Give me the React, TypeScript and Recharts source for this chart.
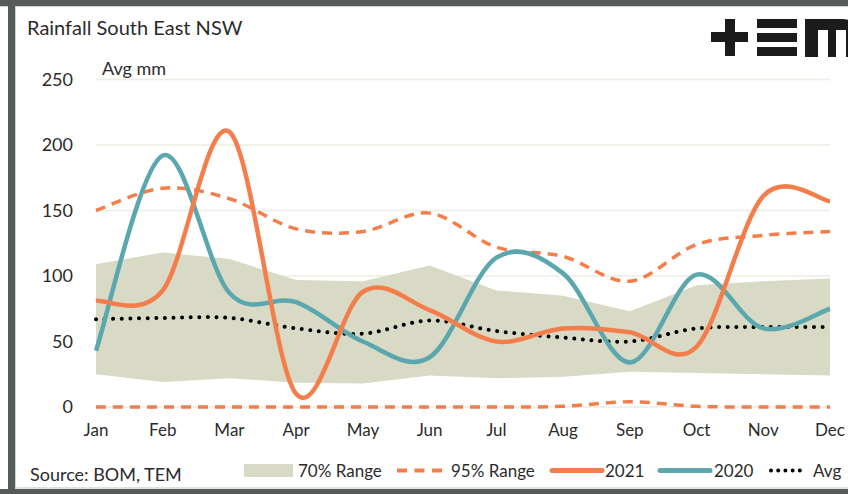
import React from "react";
import { ComposedChart, Line, Area, XAxis, YAxis, CartesianGrid } from "recharts";

const months = ["Jan", "Feb", "Mar", "Apr", "May", "Jun", "Jul", "Aug", "Sep", "Oct", "Nov", "Dec"];
const rain2021 = [81, 89, 210, 10, 88, 74, 50, 60, 57, 46, 161, 157];
const rain2020 = [43, 192, 87, 80, 50, 38, 114, 102, 34, 101, 60, 75];
const avg = [67, 68, 68, 60, 56, 66, 58, 53, 50, 60, 61, 61];
const p95hi = [150, 167, 159, 136, 134, 148, 122, 115, 96, 124, 131, 134];
const p95lo = [0, 0, 0, 0, 0, 0, 0, 0.5, 4, 0.5, 0, 0];
const p70hi = [109, 118, 113, 97, 96, 108, 89, 85, 73, 93, 96, 98];
const p70lo = [25, 19, 22, 18.5, 18, 24, 22, 23, 27, 26, 25, 24];
const yTicks = [0, 50, 100, 150, 200, 250];

const data = months.map((m, i) => ({
  month: m,
  r2021: rain2021[i],
  r2020: rain2020[i],
  avg: avg[i],
  hi95: p95hi[i],
  lo95: p95lo[i],
  band: [p70lo[i], p70hi[i]],
}));

const ORANGE = "#F47E4B";
const TEAL = "#5BA7AE";
const BAND = "#D9DAC5";
const DARK = "#565C59";
const FONT = "Lato, 'Open Sans', sans-serif";
const TEXT = "#2b2b2b";

// Catmull-Rom style smoothing (similar to Excel smoothed lines)
const smooth: any = (context: any) => {
  let pts: number[][] = [];
  return {
    areaStart() {},
    areaEnd() {},
    lineStart() {
      pts = [];
    },
    point(x: number, y: number) {
      pts.push([+x, +y]);
    },
    lineEnd() {
      const n = pts.length;
      if (!n) return;
      context.moveTo(pts[0][0], pts[0][1]);
      if (n === 1) return;
      const t = 1 / 6;
      for (let i = 0; i < n - 1; i++) {
        const p0 = pts[i - 1] || pts[i];
        const p1 = pts[i];
        const p2 = pts[i + 1];
        const p3 = pts[i + 2] || p2;
        context.bezierCurveTo(
          p1[0] + (p2[0] - p0[0]) * t,
          p1[1] + (p2[1] - p0[1]) * t,
          p2[0] - (p3[0] - p1[0]) * t,
          p2[1] - (p3[1] - p1[1]) * t,
          p2[0],
          p2[1]
        );
      }
    },
  };
};

const legendItems = [
  { label: "70% Range", kind: "band", x: 244, w: 49, tx: 298 },
  { label: "95% Range", kind: "dash", x: 397, w: 45, tx: 451 },
  { label: "2021", kind: "orange", x: 552, w: 50, tx: 605 },
  { label: "2020", kind: "teal", x: 660, w: 50, tx: 714 },
  { label: "Avg", kind: "dot", x: 769, w: 38, tx: 813 },
];

function LegendRow() {
  return (
    <svg width={848} height={494} style={{ position: "absolute", left: 0, top: 0, pointerEvents: "none" }}>
      {legendItems.map((it) => {
        const cy = 470.5;
        let sym: React.ReactNode = null;
        if (it.kind === "band") sym = <rect x={it.x} y={464} width={it.w} height={13} fill={BAND} />;
        if (it.kind === "dash")
          sym = <line x1={it.x} x2={it.x + it.w} y1={cy} y2={cy} stroke={ORANGE} strokeWidth={4} strokeDasharray="10 7.5" />;
        if (it.kind === "orange")
          sym = <line x1={it.x} x2={it.x + it.w} y1={cy} y2={cy} stroke={ORANGE} strokeWidth={5} strokeLinecap="round" />;
        if (it.kind === "teal")
          sym = <line x1={it.x} x2={it.x + it.w} y1={cy} y2={cy} stroke={TEAL} strokeWidth={5} strokeLinecap="round" />;
        if (it.kind === "dot")
          sym = (
            <line x1={it.x + 2} x2={it.x + it.w} y1={cy} y2={cy} stroke="#000" strokeWidth={4} strokeLinecap="round" strokeDasharray="0.01 7.2" />
          );
        return (
          <g key={it.label}>
            {sym}
            <text x={it.tx} y={477} fontFamily={FONT} fontSize={17} fill={TEXT}>
              {it.label}
            </text>
          </g>
        );
      })}
    </svg>
  );
}

function Logo() {
  return (
    <svg width={848} height={80} style={{ position: "absolute", left: 0, top: 0, pointerEvents: "none" }}>
      <g fill="#1b1b1b">
        <rect x={711} y={32} width={37} height={10} />
        <rect x={725} y={19} width={10} height={37} />
        <rect x={757} y={19} width={40} height={9} />
        <rect x={757} y={33} width={40} height={9} />
        <rect x={757} y={47} width={40} height={9} />
        <path d="M805 19 H842 Q856 19 856 33 V57 H846 V30 H836 V57 H828 V30 H818 V57 H805 Z" />
      </g>
    </svg>
  );
}

export default function App() {
  return (
    <div
      style={{
        position: "absolute",
        left: 0,
        top: 0,
        width: 848,
        height: 494,
        background: "#fff",
        overflow: "hidden",
        fontFamily: FONT,
      }}
    >
      {/* frame */}
      <div style={{ position: "absolute", left: 0, top: 0, width: 848, height: 6, background: DARK }} />
      <div style={{ position: "absolute", left: 0, top: 6, width: 848, height: 1, background: "#cfd2cc" }} />
      <div style={{ position: "absolute", left: 8, top: 0, width: 7, height: 494, background: DARK }} />
      <div style={{ position: "absolute", left: 15, top: 6, width: 1, height: 484, background: "#cfd2cc" }} />
      <div style={{ position: "absolute", left: 0, top: 489, width: 848, height: 5, background: DARK }} />
      <div style={{ position: "absolute", left: 15, top: 487, width: 833, height: 2, background: "#dfe1da" }} />

      <ComposedChart
        width={848}
        height={494}
        data={data}
        margin={{ top: 79.5, right: 18, bottom: 57, left: 0 }}
        style={{ position: "absolute", left: 0, top: 0 }}
      >
        <CartesianGrid horizontal vertical={false} stroke="#ECEDE3" strokeWidth={1.5} />
        <XAxis
          dataKey="month"
          scale="point"
          padding={{ left: 0, right: 0 }}
          height={30}
          axisLine={false}
          tickLine={false}
          tickSize={0}
          tickMargin={17}
          interval={0}
          tick={{ fontFamily: FONT, fontSize: 17, fill: TEXT }}
        />
        <YAxis
          domain={[0, 250]}
          ticks={yTicks}
          width={96}
          axisLine={false}
          tickLine={false}
          tickSize={0}
          tickMargin={23}
          tick={{ fontFamily: FONT, fontSize: 18, fill: TEXT }}
        />
        <Area dataKey="band" type="linear" stroke="none" fill={BAND} fillOpacity={1} isAnimationActive={false} />
        <Line dataKey="lo95" type={smooth} stroke={ORANGE} strokeWidth={3.5} strokeDasharray="10 7" dot={false} isAnimationActive={false} />
        <Line dataKey="hi95" type={smooth} stroke={ORANGE} strokeWidth={3.5} strokeDasharray="10 7" dot={false} isAnimationActive={false} />
        <Line dataKey="avg" type={smooth} stroke="#000" strokeWidth={4} strokeLinecap="round" strokeDasharray="0.01 8.6" dot={false} isAnimationActive={false} />
        <Line dataKey="r2020" type={smooth} stroke={TEAL} strokeWidth={4.5} dot={false} isAnimationActive={false} />
        <Line dataKey="r2021" type={smooth} stroke={ORANGE} strokeWidth={4.5} dot={false} isAnimationActive={false} />
      </ComposedChart>

      <Logo />
      <LegendRow />

      <div style={{ position: "absolute", left: 27, top: 14, fontSize: 20, color: TEXT, lineHeight: "26px", whiteSpace: "nowrap" }}>
        Rainfall South East NSW
      </div>
      <div style={{ position: "absolute", left: 102, top: 56, fontSize: 18, color: TEXT, lineHeight: "24px", whiteSpace: "nowrap" }}>
        Avg mm
      </div>
      <div style={{ position: "absolute", left: 30, top: 462, fontSize: 18, color: TEXT, lineHeight: "24px", whiteSpace: "nowrap" }}>
        Source: BOM, TEM
      </div>
    </div>
  );
}
